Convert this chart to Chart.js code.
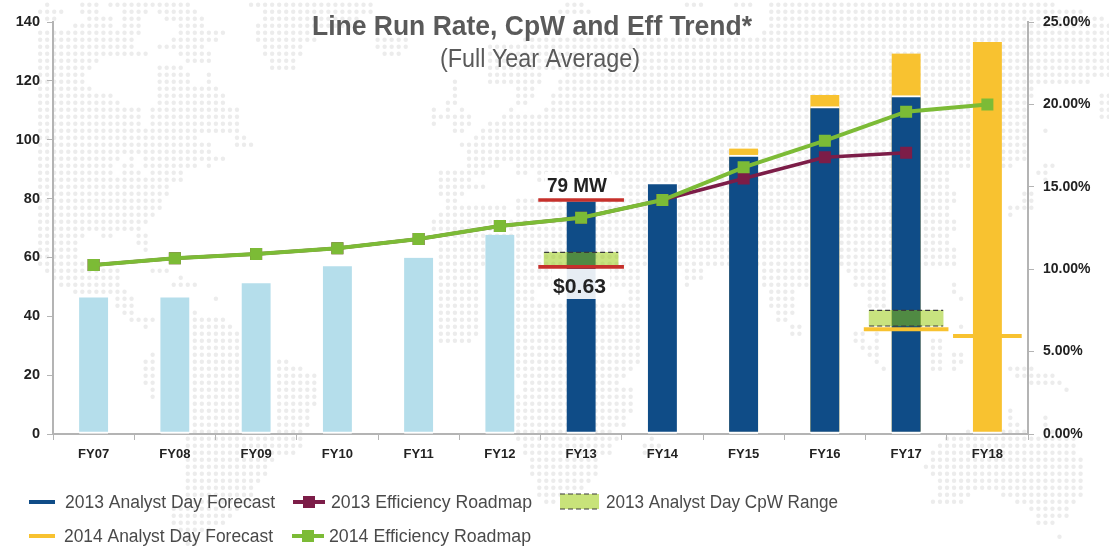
<!DOCTYPE html>
<html><head><meta charset="utf-8">
<style>html,body{margin:0;padding:0;background:#fff;overflow:hidden}#wrap{position:relative;width:1109px;height:546px}</style>
<script src="https://cdn.jsdelivr.net/npm/chart.js@4"></script>
</head><body><div id="wrap"><canvas id="c" width="1109" height="546"></canvas></div>
<script>
const categories=['FY07','FY08','FY09','FY10','FY11','FY12','FY13','FY14','FY15','FY16','FY17','FY18'];
const historical=[46.4,46.4,51.2,57,59.9,67.7,null,null,null,null,null,null];
const forecast2013=[null,null,null,null,null,null,79.6,85.4,94.8,111.3,115,null];
const forecast2014=[null,null,null,null,null,null,null,null,97,115.2,129.3,133.2];
const efficiency2013=[10.25,10.66,10.92,11.27,11.83,12.62,13.12,14.2,15.5,16.79,17.07,null];
const efficiency2014=[10.25,10.66,10.92,11.27,11.83,12.62,13.12,14.2,16.18,17.8,19.56,20.0];
const cpwRange2013=[null,null,null,null,null,null,[56.9,61.7],null,null,null,[36.7,42],null];
const redMarks=[null,null,null,null,null,null,[79,80],null,null,null,null,null];
const redMarksLow=[null,null,null,null,null,null,[56.3,57.3],null,null,null,null,null];
const orangeMark17=[null,null,null,null,null,null,null,null,null,null,[35,36.2],null];
const orangeMark18=[null,null,null,null,null,null,null,null,null,null,null,[32.7,33.9]];
const leftTicks=[0,20,40,60,80,100,120,140];
const titleText='Line Run Rate, CpW and Eff Trend*';
const subtitleText='(Full Year Average)';
const calloutTop='79 MW';
const calloutBottom='$0.63';
const legendNames=['2013 Analyst Day Forecast','2013 Efficiency Roadmap','2013 Analyst Day CpW Range','2014 Analyst Day Forecast','2014 Efficiency Roadmap'];

const C={blue:'#0f4c87',light:'#b5deeb',yellow:'#f8c230',maroon:'#7c1d48',green:'#7cbb36',red:'#c6302b',range:'rgba(145,199,0,0.5)',axis:'#b4b4b4',text:'#222',legend:'#4a4a4a',title:'#5a5a5a',dot:'#ececec'};

// decorative dotted world map: for each row, [from,to] pixel spans
const mapRows=[
[[43,50],[80,98],[108,188],[248,377],[567,585],[685,703],[733,757],[770,1053]],
[[40,63],[80,98],[123,147],[157,197],[262,377],[560,592],[770,1087]],
[[45,57],[88,112],[123,140],[165,203],[262,363],[770,1103]],
[[73,112],[123,140],[178,203],[255,360],[770,1109]],
[[40,140],[178,223],[255,313],[763,1109]],
[[40,133],[172,217],[255,320],[373,410],[520,627],[637,1109]],
[[40,133],[157,203],[262,307],[373,410],[490,1109]],
[[40,147],[178,210],[262,307],[380,403],[490,1109]],
[[40,98],[185,210],[268,300],[490,1109]],
[[40,92],[157,182],[268,300],[490,1109]],
[[40,85],[157,190],[205,210],[290,293],[490,543],[567,1109]],
[[40,85],[157,190],[205,210],[448,460],[490,543],[560,1093]],
[[40,92],[157,217],[448,460],[498,503],[518,537],[560,1037]],
[[40,112],[157,223],[448,460],[518,537],[553,1037],[1097,1109]],
[[40,120],[157,223],[442,460],[505,508],[518,528],[553,1027],[1097,1109]],
[[40,140],[150,237],[428,438],[442,448],[457,467],[505,515],[540,1027],[1097,1109]],
[[40,140],[150,243],[428,473],[498,1027],[1040,1043],[1097,1109]],
[[40,140],[150,243],[428,438],[448,473],[490,1027],[1040,1043]],
[[40,243],[448,463],[477,1027],[1040,1050]],
[[40,197],[233,250],[470,1027]],
[[40,210],[233,258],[457,1027],[1040,1043]],
[[40,210],[253,258],[463,1027],[1040,1043]],
[[40,120],[130,133],[143,223],[463,1027],[1040,1043]],
[[40,112],[123,133],[143,197],[207,210],[463,503],[512,1013],[1040,1057]],
[[40,112],[123,140],[150,182],[435,487],[493,497],[512,528],[535,953],[1032,1050]],
[[40,182],[435,473],[505,507],[535,553],[620,953],[1040,1050]],
[[40,168],[435,487],[620,953]],
[[40,168],[435,463],[620,960],[1018,1037]],
[[40,162],[442,457],[518,960],[1018,1037]],
[[40,162],[442,508],[518,953],[1007,1037]],
[[40,155],[435,508],[518,953],[1007,1017]],
[[40,147],[428,960]],
[[40,140],[428,960]],
[[40,85],[102,112],[137,147],[435,953]],
[[40,78],[137,147],[435,953]],
[[40,78],[143,147],[435,960]],
[[40,78],[435,960]],
[[40,85],[435,960]],
[[45,120],[150,168],[437,480],[518,563],[600,640],[680,703],[760,807],[843,887]],
[[53,120],[178,187],[437,480],[518,563],[600,640],[680,703],[760,807],[852,887],[957,960]],
[[60,120],[172,195],[437,480],[518,563],[600,640],[680,690],[760,807],[852,887],[950,960]],
[[73,127],[437,480],[518,537],[630,640],[768,793],[867,887],[950,960]],
[[115,133],[213,217],[400,403],[437,480],[518,537],[630,640],[768,793],[867,887],[958,967]],
[[115,133],[437,480],[518,640],[768,793],[867,887],[965,967]],
[[122,133],[193,197],[437,480],[518,640],[775,793]],
[[130,153],[193,223],[437,480],[518,640],[775,787]],
[[143,147],[193,230],[437,480],[518,640],[790,800],[957,967]],
[[193,237],[437,480],[518,640],[790,800],[852,863],[873,883]],
[[193,237],[437,473],[518,640],[852,863],[873,883],[928,947]],
[[193,237],[518,640],[858,883],[928,947]],
[[150,153],[193,237],[518,640],[867,883],[928,947],[950,967]],
[[143,153],[193,237],[275,287],[518,640],[873,883],[928,947],[950,967],[1007,1009]],
[[143,153],[193,237],[275,307],[518,633],[880,887],[928,947],[950,960],[1007,1037]],
[[143,153],[193,237],[275,318],[518,627],[950,953],[1013,1057]],
[[143,153],[193,237],[275,318],[525,620],[928,932],[1025,1063]],
[[150,153],[193,237],[275,318],[525,633],[1060,1070]],
[[150,153],[193,237],[275,318],[518,633]],
[[193,237],[275,318],[518,633],[1040,1043]],
[[193,237],[275,313],[518,633],[1007,1015],[1040,1043]],
[[193,237],[275,313],[518,627],[1007,1015],[1040,1050]],
[[193,237],[275,313],[518,627],[965,968],[1007,1023],[1040,1050]],
[[193,237],[275,307],[518,613],[965,1028],[1040,1057]],
[[185,307],[518,620],[647,657],[947,1078]],
[[185,307],[525,613],[643,660],[935,1078]],
[[185,300],[525,613],[643,660],[928,1078]],
[[185,278],[532,600],[928,1085]],
[[185,272],[532,600],[922,1085]],
[[185,272],[532,600],[928,1085]],
[[185,265],[538,593],[935,1085]],
[[185,258],[538,587],[935,1085]],
[[185,258],[538,580],[935,973],[1003,1085]],
[[185,252],[545,560],[928,967],[1012,1078]],
[[172,237],[1025,1072]],
[[172,230],[1032,1072]],
[[172,223],[1032,1057]],
[[178,215]],
[[178,195],[1053,1063]],
[[185,195],[1053,1057]]
];

const mapPlugin={id:'dottedMap',beforeDraw(ch){
  const g=ch.ctx;g.save();g.fillStyle='#fff';g.fillRect(0,0,ch.width,ch.height);g.fillStyle=C.dot;
  mapRows.forEach((spans,r)=>{const y=4.7+7*r;
    spans.forEach(([a,b])=>{for(let x=5+Math.ceil((a-5)/7.03)*7.03;x<=b;x+=7.03){g.beginPath();g.arc(x,y,2.2,0,Math.PI*2);g.fill();}});
  });g.restore();
}};

const dashPlugin={id:'rangeDashes',afterDatasetDraw(ch,args){
  const ds=ch.data.datasets[args.index];if(!ds.dashed)return;
  const g=ch.ctx;g.save();g.strokeStyle='#3a3a3a';g.lineWidth=1.2;g.setLineDash([5,3]);
  args.meta.data.forEach((el,i)=>{if(ds.data[i]==null)return;const p=el.getProps(['x','y','base','width'],true);
    [p.y,p.base].forEach(y=>{g.beginPath();g.moveTo(p.x-p.width/2,y);g.lineTo(p.x+p.width/2,y);g.stroke();});});
  g.restore();
}};

// draw text squeezed to the width it has in the reference (condensed look)
function fit(g,text,x0,x1,base){const w=g.measureText(text).width;g.save();g.translate(x0,base);g.scale((x1-x0)/w,1);g.textAlign='left';g.textBaseline='alphabetic';g.fillText(text,0,0);g.restore();}

const textPlugin={id:'chartTexts',afterDraw(ch){
  const g=ch.ctx;g.save();
  g.fillStyle=C.title;g.font='bold 28.5px "Liberation Sans"';fit(g,titleText,312,752,35);
  g.font='25px "Liberation Sans"';fit(g,subtitleText,440,640,66.5);
  g.fillStyle=C.text;g.font='bold 21px "Liberation Sans"';
  fit(g,calloutTop,547,607,192);
  fit(g,calloutBottom,553,606,292.5);
  // legend
  const sw=(x,y,w,col)=>{g.fillStyle=col;g.fillRect(x,y-2,w,4);};
  const mk=(x,y,col)=>{g.fillStyle=col;g.fillRect(x-6,y-6,12,12);};
  const rows=[502,536];
  sw(29,rows[0],26,C.blue);sw(29,rows[1],26,C.yellow);
  sw(293,rows[0],32,C.maroon);mk(309,rows[0],C.maroon);
  sw(292,rows[1],32,C.green);mk(308,rows[1],C.green);
  g.fillStyle='#c8e37a';g.fillRect(560,494,39,15);
  g.strokeStyle='#3a3a3a';g.lineWidth=1.2;g.setLineDash([5,3]);
  [494,509].forEach(y=>{g.beginPath();g.moveTo(560,y);g.lineTo(599,y);g.stroke();});g.setLineDash([]);
  g.fillStyle=C.legend;g.font='17.6px "Liberation Sans"';
  fit(g,legendNames[0],65,275,rows[0]+6);fit(g,legendNames[1],331,532,rows[0]+6);fit(g,legendNames[2],606,838,rows[0]+6);
  fit(g,legendNames[3],64,273,rows[1]+6);fit(g,legendNames[4],329,531,rows[1]+6);
  g.restore();
}};

const calloutBackdrop={id:'calloutBackdrop',afterDatasetDraw(ch,args){
  if(!ch.data.datasets[args.index].backdrop)return;
  const g=ch.ctx;g.save();g.fillStyle='rgba(255,255,255,0.9)';
  g.fillRect(552,269,58,30);g.fillRect(545,172,66,26);g.restore();
}};

const bar=(label,data,color,thick,order,extra={})=>Object.assign({type:'bar',label,data,backgroundColor:color,barThickness:thick,order,grouped:false,yAxisID:'y',borderSkipped:false},extra);
const line=(label,data,color,w,order)=>({type:'line',label,data,borderColor:color,backgroundColor:color,borderWidth:w,pointStyle:'rect',pointRadius:8.5,pointHoverRadius:8.5,pointBorderWidth:0,tension:0,order,yAxisID:'y1',spanGaps:false});
const baseGap={borderColor:'#ffffff',borderWidth:{top:0,left:0,right:0,bottom:2}};
const baseTopGap={borderColor:'#ffffff',borderWidth:{top:2,left:0,right:0,bottom:2}};

new Chart(document.getElementById('c'),{
  data:{labels:categories,datasets:[
    bar('2014 Analyst Day Forecast',forecast2014,C.yellow,29,20,baseGap),
    bar('Historical',historical,C.light,29,19,baseGap),
    bar('2013 Analyst Day Forecast',forecast2013,C.blue,29,18,baseTopGap),
    bar('Orange FY18',orangeMark18,C.yellow,68,21),
    bar('Backdrop',[],'transparent',1,17,{backdrop:true}),
    bar('2013 Analyst Day CpW Range',cpwRange2013,C.range,74,16,{dashed:true}),
    bar('Red high',redMarks,C.red,85,15),
    bar('Red low',redMarksLow,C.red,85,14),
    bar('Orange FY17',orangeMark17,C.yellow,84,13),
    line('2013 Efficiency Roadmap',efficiency2013,C.maroon,3.5,6),
    line('2014 Efficiency Roadmap',efficiency2014,C.green,4,5)
  ]},
  options:{
    responsive:false,animation:false,events:[],
    layout:{padding:{top:22,left:0,right:0,bottom:0}},
    plugins:{legend:{display:false},title:{display:false},tooltip:{enabled:false}},
    scales:{
      x:{type:'category',position:'bottom',
        afterFit(s){s.height=112;},
        border:{color:C.axis,width:2},
        grid:{display:true,drawOnChartArea:false,drawTicks:true,tickLength:6,color:C.axis,offset:true},
        ticks:{color:C.text,padding:7,maxRotation:0,font:{family:'"Liberation Sans"',weight:'bold',size:13}}},
      y:{type:'linear',position:'left',min:0,max:140,
        afterFit(s){s.width=53;},
        afterBuildTicks(s){s.ticks=leftTicks.map(v=>({value:v}));},
        border:{color:C.axis,width:2},
        grid:{drawOnChartArea:false,tickLength:6,color:C.axis},
        ticks:{color:C.text,padding:7,font:{family:'"Liberation Sans"',weight:'bold',size:14.5}}},
      y1:{type:'linear',position:'right',min:0,max:25,
        afterFit(s){s.width=81;},
        border:{color:C.axis,width:2},
        grid:{drawOnChartArea:false,tickLength:6,color:C.axis},
        ticks:{stepSize:5,color:C.text,padding:9,font:{family:'"Liberation Sans"',weight:'bold',size:14},callback:v=>v.toFixed(2)+'%'}}
    }
  },
  plugins:[mapPlugin,calloutBackdrop,dashPlugin,textPlugin]
});
</script></body></html>
